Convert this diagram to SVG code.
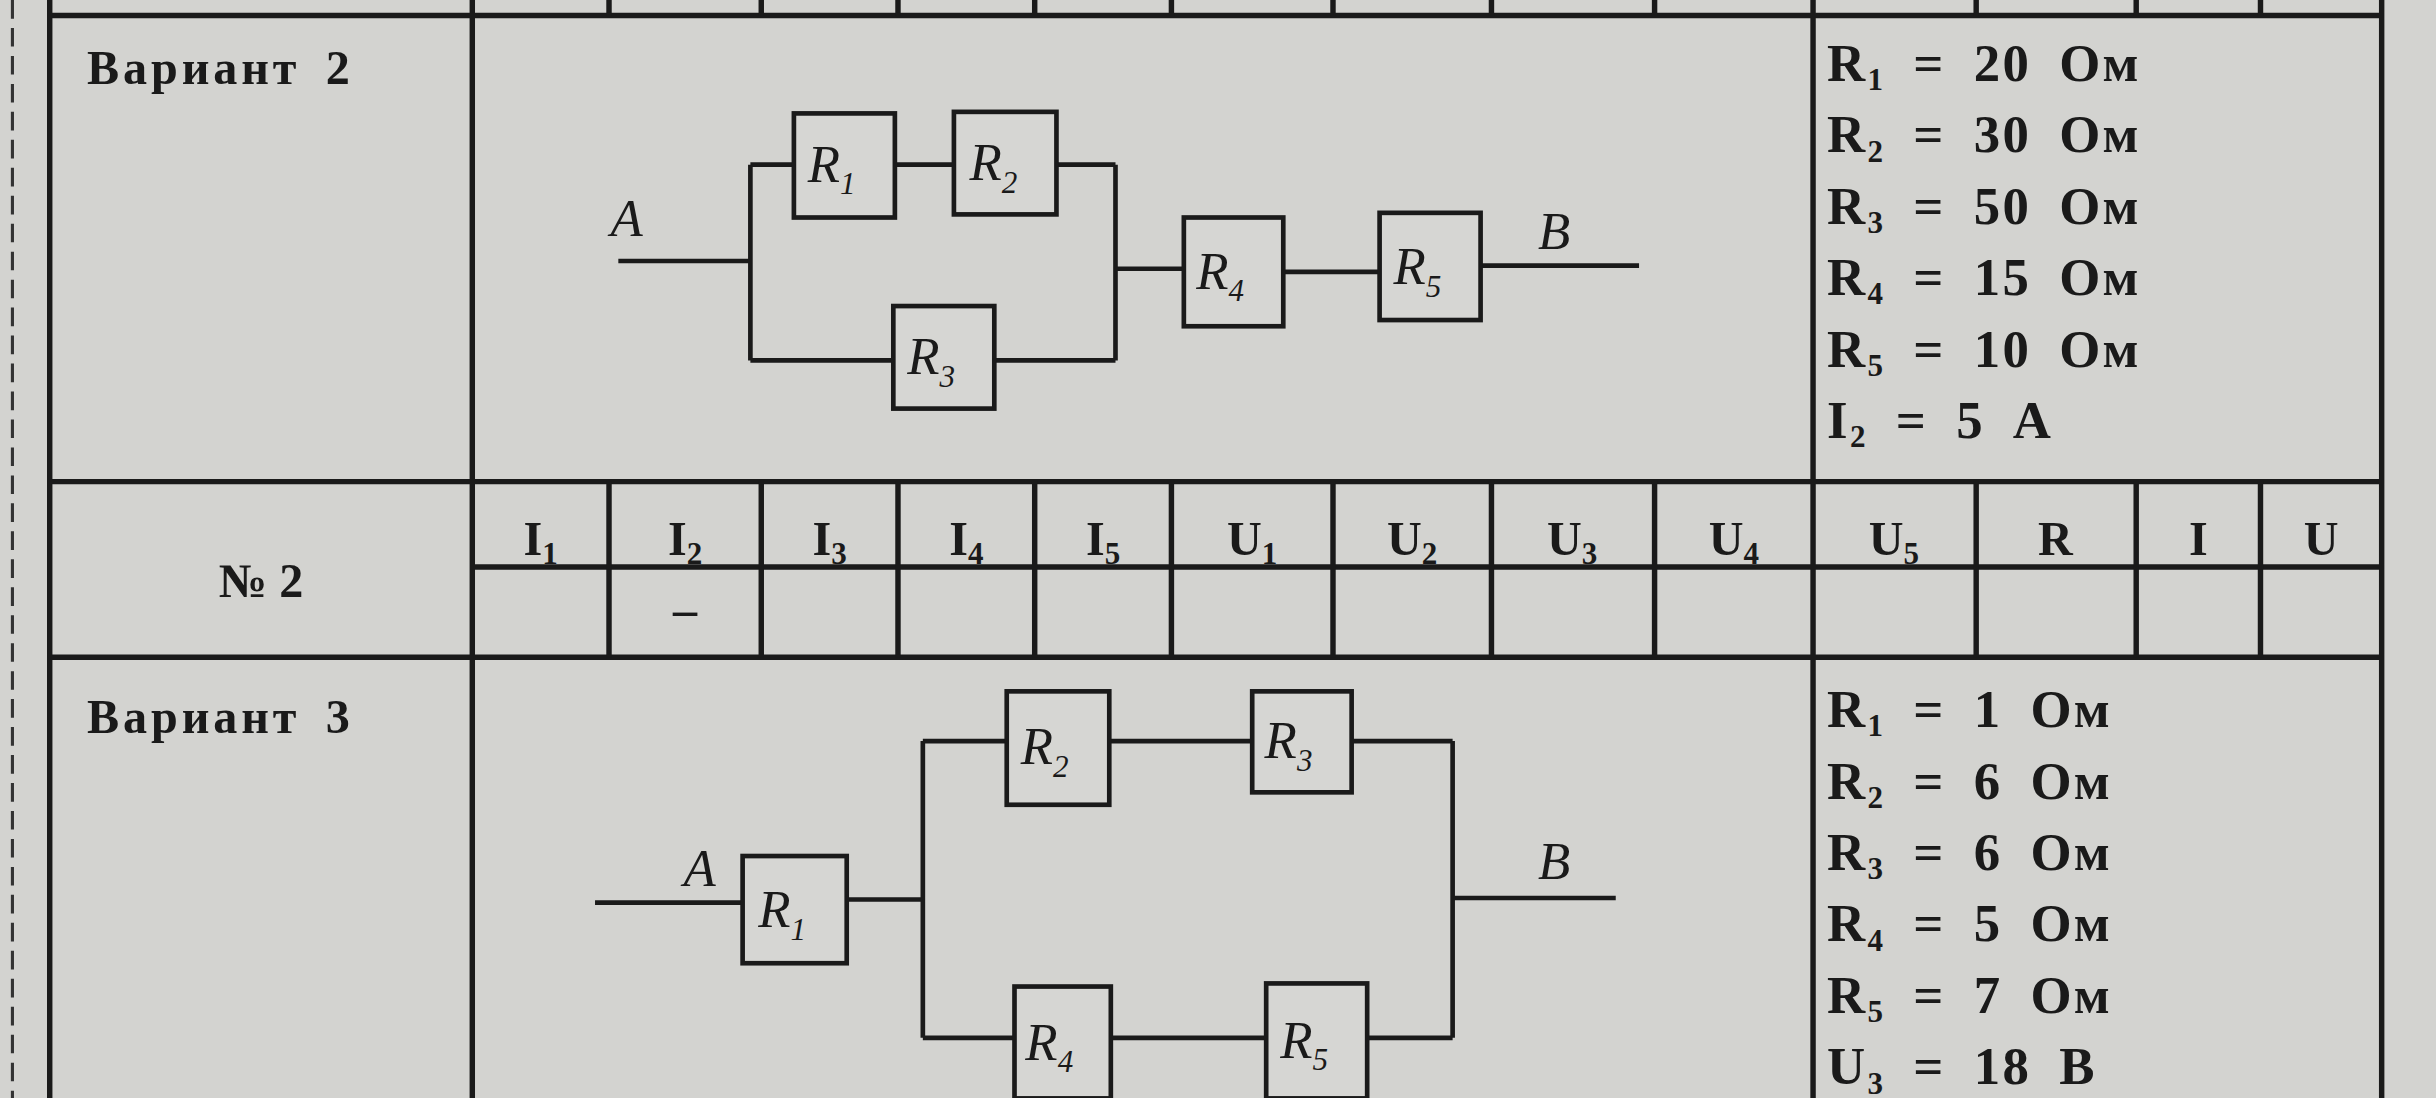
<svg xmlns="http://www.w3.org/2000/svg" width="2436" height="1098" viewBox="0 0 2436 1098">
<style>
.ln{stroke:#1a1a1a;stroke-width:3;fill:none}
.tb{stroke:#1a1a1a;stroke-width:3.5;fill:none}
.bx{stroke:#1a1a1a;stroke-width:3;fill:#d6d6d3}
.r{font-family:"Liberation Serif",serif;font-style:italic;font-size:34px;fill:#1a1a1a}
.s{font-size:20px}
.d{font-family:"Liberation Serif",serif;font-weight:bold;font-size:34px;fill:#1a1a1a;letter-spacing:1.5px;word-spacing:8px}
.v{font-family:"Liberation Serif",serif;font-weight:bold;font-size:31px;fill:#1a1a1a;letter-spacing:2.5px;word-spacing:6px}
.h{font-family:"Liberation Serif",serif;font-weight:bold;font-size:31px;fill:#1a1a1a;text-anchor:middle}
</style>
<rect width="2436" height="1098" fill="#d3d3d0"/>
<g transform="scale(1.5536)">
<g id="table">
<line x1="8" y1="0" x2="8" y2="707" stroke="#333" stroke-width="2" stroke-dasharray="12,6"/>
<path class="tb" d="M32 0V707M304 0V707M1167 0V707M1533 0V707M32 10H1533M32 310H1533M304 365H1533M32 423H1533"/>
<path class="tb" d="M392 0V10M490 0V10M578 0V10M666 0V10M754 0V10M858 0V10M960 0V10M1065 0V10M1272 0V10M1375 0V10M1455 0V10"/>
<path class="tb" d="M392 310V423M490 310V423M578 310V423M666 310V423M754 310V423M858 310V423M960 310V423M1065 310V423M1272 310V423M1375 310V423M1455 310V423"/>
</g>
<g id="labels">
<text class="v" x="56" y="54">Вариант 2</text>
<text class="v" x="56" y="472">Вариант 3</text>
<text class="h" x="168" y="384">№ 2</text>
<g class="h">
<text x="348" y="357">I<tspan class="s" dy="6">1</tspan></text>
<text x="441" y="357">I<tspan class="s" dy="6">2</tspan></text>
<text x="534" y="357">I<tspan class="s" dy="6">3</tspan></text>
<text x="622" y="357">I<tspan class="s" dy="6">4</tspan></text>
<text x="710" y="357">I<tspan class="s" dy="6">5</tspan></text>
<text x="806" y="357">U<tspan class="s" dy="6">1</tspan></text>
<text x="909" y="357">U<tspan class="s" dy="6">2</tspan></text>
<text x="1012" y="357">U<tspan class="s" dy="6">3</tspan></text>
<text x="1116" y="357">U<tspan class="s" dy="6">4</tspan></text>
<text x="1219" y="357">U<tspan class="s" dy="6">5</tspan></text>
<text x="1323" y="357">R</text>
<text x="1415" y="357">I</text>
<text x="1494" y="357">U</text>
<text x="441" y="403">–</text>
</g>
<g class="d">
<text x="1176" y="52">R<tspan class="s" dy="6">1</tspan><tspan dy="-6"> = 20 Ом</tspan></text>
<text x="1176" y="98">R<tspan class="s" dy="6">2</tspan><tspan dy="-6"> = 30 Ом</tspan></text>
<text x="1176" y="144">R<tspan class="s" dy="6">3</tspan><tspan dy="-6"> = 50 Ом</tspan></text>
<text x="1176" y="190">R<tspan class="s" dy="6">4</tspan><tspan dy="-6"> = 15 Ом</tspan></text>
<text x="1176" y="236">R<tspan class="s" dy="6">5</tspan><tspan dy="-6"> = 10 Ом</tspan></text>
<text x="1176" y="282">I<tspan class="s" dy="6">2</tspan><tspan dy="-6"> = 5 А</tspan></text>
<text x="1176" y="468">R<tspan class="s" dy="6">1</tspan><tspan dy="-6"> = 1 Ом</tspan></text>
<text x="1176" y="514">R<tspan class="s" dy="6">2</tspan><tspan dy="-6"> = 6 Ом</tspan></text>
<text x="1176" y="560">R<tspan class="s" dy="6">3</tspan><tspan dy="-6"> = 6 Ом</tspan></text>
<text x="1176" y="606">R<tspan class="s" dy="6">4</tspan><tspan dy="-6"> = 5 Ом</tspan></text>
<text x="1176" y="652">R<tspan class="s" dy="6">5</tspan><tspan dy="-6"> = 7 Ом</tspan></text>
<text x="1176" y="698">U<tspan class="s" dy="6">3</tspan><tspan dy="-6"> = 18 В</tspan></text>
</g>
</g>
<g id="connectors">
<path class="ln" d="M398 168H483M483 106V232M483 106H511M576 106H614M680 106H718M718 106V232M483 232H575M640 232H718M718 173H762M826 175H888M953 171H1055"/>
<path class="ln" d="M383 581H478M545 579H594M594 477V668M594 477H648M714 477H806M870 477H935M935 477V668M594 668H653M715 668H815M880 668H935M935 578H1040"/>
</g>
<text class="r" x="393" y="152">A</text>
<text class="r" x="990" y="160">B</text>
<text class="r" x="440" y="570">A</text>
<text class="r" x="990" y="566">B</text>
<g id="R1a"><rect class="bx" x="511" y="73" width="65" height="67"/><text class="r" x="520" y="117">R<tspan class="s" dy="8">1</tspan></text></g>
<g id="R2a"><rect class="bx" x="614" y="72" width="66" height="66"/><text class="r" x="624" y="116">R<tspan class="s" dy="8">2</tspan></text></g>
<g id="R3a"><rect class="bx" x="575" y="197" width="65" height="66"/><text class="r" x="584" y="241">R<tspan class="s" dy="8">3</tspan></text></g>
<g id="R4a"><rect class="bx" x="762" y="140" width="64" height="70"/><text class="r" x="770" y="186">R<tspan class="s" dy="8">4</tspan></text></g>
<g id="R5a"><rect class="bx" x="888" y="137" width="65" height="69"/><text class="r" x="897" y="183">R<tspan class="s" dy="8">5</tspan></text></g>
<g id="R1b"><rect class="bx" x="478" y="551" width="67" height="69"/><text class="r" x="488" y="597">R<tspan class="s" dy="8">1</tspan></text></g>
<g id="R2b"><rect class="bx" x="648" y="445" width="66" height="73"/><text class="r" x="657" y="492">R<tspan class="s" dy="8">2</tspan></text></g>
<g id="R3b"><rect class="bx" x="806" y="445" width="64" height="65"/><text class="r" x="814" y="488">R<tspan class="s" dy="8">3</tspan></text></g>
<g id="R4b"><rect class="bx" x="653" y="635" width="62" height="72"/><text class="r" x="660" y="682">R<tspan class="s" dy="8">4</tspan></text></g>
<g id="R5b"><rect class="bx" x="815" y="633" width="65" height="74"/><text class="r" x="824" y="681">R<tspan class="s" dy="8">5</tspan></text></g>
</g>
</svg>
